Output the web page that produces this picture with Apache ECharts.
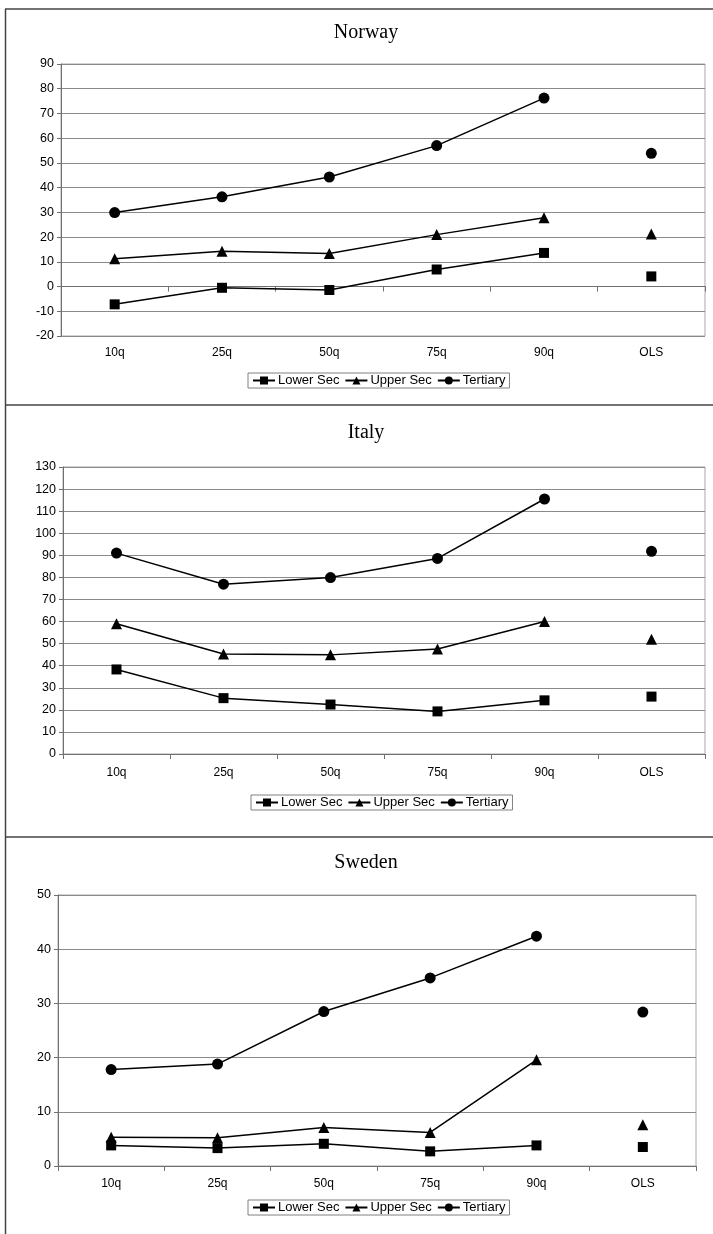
<!DOCTYPE html>
<html>
<head>
<meta charset="utf-8">
<script src="https://cdn.jsdelivr.net/npm/echarts@6/dist/echarts.min.js"></script>
<style>
html,body{margin:0;padding:0;background:#fff;}
#chart{width:713px;height:1234px;}
</style>
</head>
<body>
<div id="chart"></div>
<script>
// ---- data ----
const categories = ['10q', '25q', '50q', '75q', '90q', 'OLS'];
const seriesNames = ['Lower Sec', 'Upper Sec', 'Tertiary'];
const countries = ['Norway', 'Italy', 'Sweden'];

const norwayLower = [-7.2, -0.5, -1.4, 6.9, 13.6, 4.1];
const norwayUpper = [11.2, 14.3, 13.4, 21.0, 27.8, 21.2];
const norwayTertiary = [29.9, 36.3, 44.3, 57.0, 76.2, 53.9];

const italyLower = [38.3, 25.3, 22.4, 19.3, 24.3, 26.0];
const italyUpper = [59.0, 45.3, 44.9, 47.6, 60.0, 52.0];
const italyTertiary = [91.0, 76.9, 79.9, 88.6, 115.5, 91.8];

const swedenLower = [3.8, 3.3, 4.1, 2.7, 3.8, 3.5];
const swedenUpper = [5.3, 5.2, 7.1, 6.2, 19.6, 7.6];
const swedenTertiary = [17.8, 18.8, 28.5, 34.7, 42.4, 28.4];

const yMin = [-20, 0, 0];
const yMax = [90, 130, 50];
const yInterval = [10, 10, 10];

// ---- layout ----
const grids = [
  {left: 61, width: 644, top: 64, height: 272},
  {left: 63, width: 642, top: 467, height: 287},
  {left: 58, width: 638, top: 895, height: 271}
];
const titleTops = [23, 423, 853];
const legendPos = [{left: 248, top: 373}, {left: 251, top: 795}, {left: 248, top: 1200}];
const labelMargins = [11, 13, 12];

const symbols = ['rect', 'triangle', 'circle'];
const symbolSizes = [10, 11, 11];

const allData = [
  [norwayLower, norwayUpper, norwayTertiary],
  [italyLower, italyUpper, italyTertiary],
  [swedenLower, swedenUpper, swedenTertiary]
];

const font = 'Liberation Sans, Arial, sans-serif';

const option = {
  animation: false,
  backgroundColor: '#fff',
  title: countries.map((c, i) => ({
    text: c, left: 366, top: titleTops[i], textAlign: 'center', padding: 0,
    textStyle: {fontFamily: 'Liberation Serif, Times New Roman, serif', fontSize: 20, fontWeight: 'normal', color: '#000'}
  })),
  grid: grids.map(g => Object.assign({show: true, borderColor: '#a8a8a8', borderWidth: 1, backgroundColor: '#fff'}, g)),
  xAxis: countries.map((c, i) => ({
    type: 'category', gridIndex: i, data: categories, boundaryGap: true,
    axisLine: {lineStyle: {color: '#707070', width: 1}},
    axisTick: {show: true, length: 5, inside: false, alignWithLabel: false, lineStyle: {color: '#707070'}},
    axisLabel: {color: '#000', fontFamily: font, fontSize: 12, margin: labelMargins[i]},
    splitLine: {show: false}
  })),
  yAxis: countries.map((c, i) => ({
    type: 'value', gridIndex: i, min: yMin[i], max: yMax[i], interval: yInterval[i],
    axisLine: {show: true, lineStyle: {color: '#707070', width: 1}},
    axisTick: {show: true, length: 4, lineStyle: {color: '#707070'}},
    axisLabel: {color: '#000', fontFamily: font, fontSize: 12.5, margin: 7},
    splitLine: {show: true, lineStyle: {color: '#8a8a8a', width: 1}}
  })),
  legend: countries.map((c, i) => ({
    data: seriesNames, left: legendPos[i].left, top: legendPos[i].top,
    orient: 'horizontal', itemWidth: 22, itemHeight: 10, itemGap: 5,
    padding: [1, 4], borderColor: '#808080', borderWidth: 1,
    textStyle: {fontFamily: font, fontSize: 13, color: '#000', padding: [0, 0, 0, -2]},
    selectedMode: false
  })),
  graphic: [
    {type: 'line', shape: {x1: 5.5, y1: 9, x2: 5.5, y2: 1234}, style: {stroke: '#444', lineWidth: 1.5}},
    {type: 'line', shape: {x1: 5, y1: 9, x2: 713, y2: 9}, style: {stroke: '#444', lineWidth: 1.5}},
    {type: 'line', shape: {x1: 5, y1: 405, x2: 713, y2: 405}, style: {stroke: '#444', lineWidth: 1.5}},
    {type: 'line', shape: {x1: 5, y1: 837, x2: 713, y2: 837}, style: {stroke: '#444', lineWidth: 1.5}}
  ],
  series: []
};

allData.forEach((sets, gi) => {
  sets.forEach((vals, si) => {
    option.series.push({
      name: seriesNames[si], type: 'line', xAxisIndex: gi, yAxisIndex: gi,
      data: vals.slice(0, 5),
      symbol: symbols[si], symbolSize: symbolSizes[si], showAllSymbol: true,
      lineStyle: {color: '#000', width: 1.5},
      itemStyle: {color: '#000', opacity: 1},
      z: 3
    });
    option.series.push({
      name: seriesNames[si] + ' OLS', type: 'scatter', xAxisIndex: gi, yAxisIndex: gi,
      data: [[5, vals[5]]],
      symbol: symbols[si], symbolSize: symbolSizes[si],
      itemStyle: {color: '#000', opacity: 1},
      z: 3
    });
  });
});

const chart = echarts.init(document.getElementById('chart'), null, {renderer: 'canvas'});
chart.setOption(option);
</script>
</body>
</html>
